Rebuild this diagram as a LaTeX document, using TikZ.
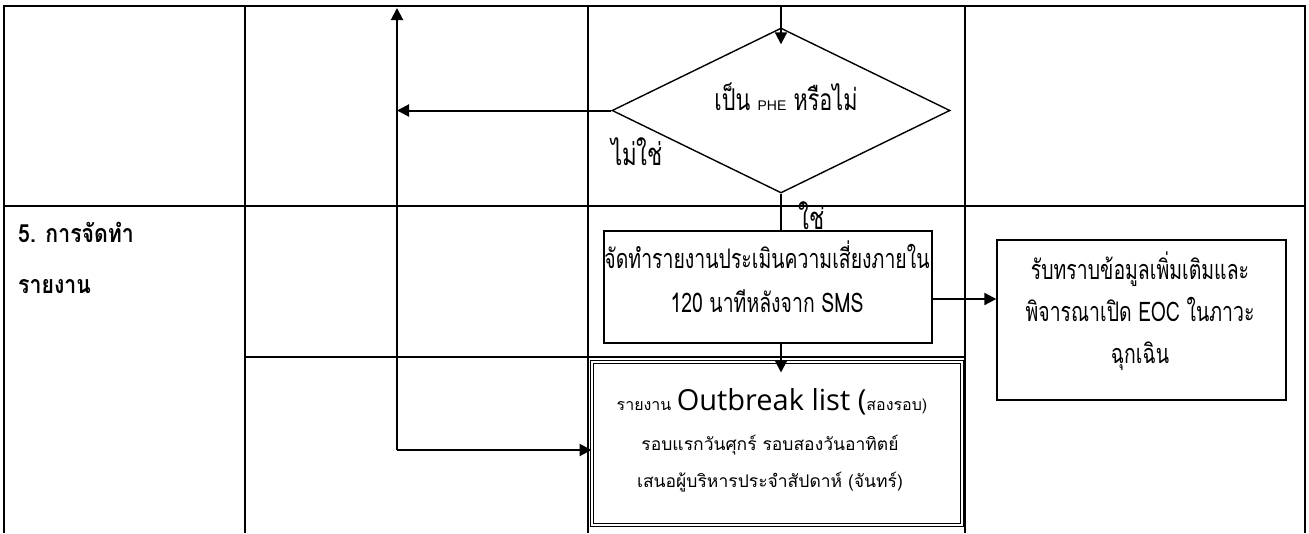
\documentclass[tikz,border=0pt]{standalone}
\usepackage{fontspec}
\usetikzlibrary{arrows.meta,shapes.geometric,calc}
\newfontfamily\thai[Script=Thai]{Loma}
\newfontfamily\thaic[Script=Thai,FakeStretch=0.72]{Loma}
\newfontfamily\thaih[Script=Thai,FakeStretch=0.85]{Loma}
\newfontfamily\latsans{Liberation Sans}
\newfontfamily\segoe{Open Sans}
\begin{document}
\begin{tikzpicture}[x=1pt,y=-1pt,
  grid/.style={line width=2pt},
  box/.style={draw, line width=1.4pt, inner sep=0pt},
  arr/.style={line width=2pt, -{Triangle[length=12pt,width=12pt]}},
  conn/.style={line width=2pt},
  lbl/.style={inner sep=0pt, align=center}]
\useasboundingbox (0,0) rectangle (1309,533);
% table grid
\draw[grid] (4,533) -- (4,6) -- (1305,6) -- (1305,533);
\draw[grid] (245,6) -- (245,533);
\draw[grid] (588,6) -- (588,533);
\draw[grid] (965,6) -- (965,533);
\draw[grid] (4,206) -- (1305,206);
\draw[grid] (245,357) -- (965,357);
% left header
\node[anchor=west, inner sep=0pt, font={\thaih\bfseries\fontsize{25}{29}\selectfont}] (h1) at (18,232) {5. การจัดทำ};
\node[anchor=west, inner sep=0pt, font={\thaih\bfseries\fontsize{25}{29}\selectfont}] (h2) at (18,287) {รายงาน};
% decision
\node[diamond, draw, line width=1.4pt, minimum width=338pt, minimum height=165pt, inner sep=0pt, aspect=2] (dec) at (781,110.5) {};
\node[lbl, font={\thaic\fontsize{30}{34}\selectfont}] (dect) at (786,97) {เป็น {\latsans\fontsize{14}{16}\selectfont PHE} หรือไม่};
\coordinate (ctop) at (781,6);
\draw[arr] (ctop) -- ($(dec.north)+(0,17)$);
\coordinate (vtop) at (397,8);
\coordinate (vbot) at (397,450);
\draw[arr] (dec.west) -- (dec.west -| vtop);
\node[lbl, font={\thaic\fontsize{31}{35}\selectfont}] (no) at (637,152) {ไม่ใช่};
\node[lbl, font={\thaic\fontsize{31}{35}\selectfont}] (yes) at (812,216) {ใช่};
% box 1
\node[box, minimum width=328pt, minimum height=112pt] (b1) at (768,287) {};
\node[lbl, font={\thaic\fontsize{27}{44}\selectfont}] (t1) at (767,277) {จัดทำรายงานประเมินความเสี่ยงภายใน\\120 นาทีหลังจาก SMS};
\draw[conn] (dec.south) -- (dec.south |- b1.north);
% box 2
\node[box, minimum width=289pt, minimum height=160pt] (b2) at (1141.5,320) {};
\node[lbl, font={\thaic\fontsize{27}{42}\selectfont}] (t2) at (1140,311) {รับทราบข้อมูลเพิ่มเติมและ\\พิจารณาเปิด EOC ในภาวะ\\ฉุกเฉิน};
\draw[arr] ([yshift=-12pt]b1.east) -- ([yshift=-12pt]b1.east -| b2.west);
% box 3
\node[draw, double, line width=1.2pt, double distance=1.8pt, minimum width=369.8pt, minimum height=162.8pt, inner sep=0pt] (b3) at (777,443.5) {};
\node[lbl, font={\thai\fontsize{16}{19}\selectfont}] (t3a) at (772,402) {รายงาน {\segoe\fontsize{29}{32}\selectfont Outbreak list (}สองรอบ)};
\node[lbl, font={\thai\fontsize{17.5}{37}\selectfont}] (t3b) at (770,464) {รอบแรกวันศุกร์ รอบสองวันอาทิตย์\\เสนอผู้บริหารประจำสัปดาห์ (จันทร์)};
\draw[arr, shorten >=-11pt] (dec.south |- b1.south) -- (dec.south |- b3.north);
% return path
\draw[arr] (vbot) -- (vtop);
\draw[arr] (vbot) -- (vbot -| b3.west);
\end{tikzpicture}
\end{document}
